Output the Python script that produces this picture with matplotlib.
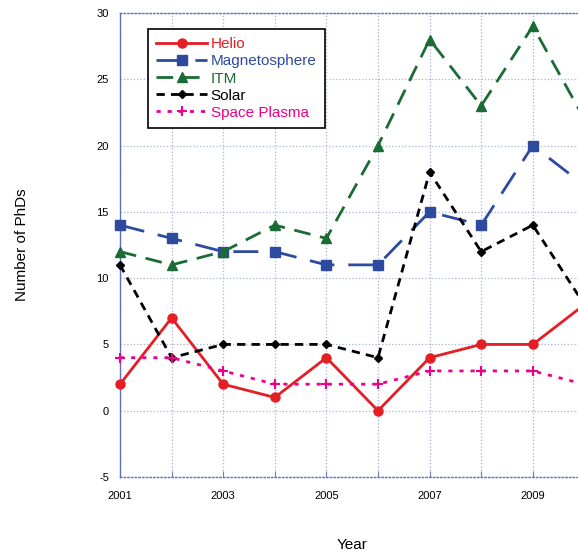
import matplotlib
matplotlib.use("Agg")
import matplotlib.pyplot as plt

years = [2001, 2002, 2003, 2004, 2005, 2006, 2007, 2008, 2009, 2010]
helio = [2, 7, 2, 1, 4, 0, 4, 5, 5, 8]
magneto = [14, 13, 12, 12, 11, 11, 15, 14, 20, 17]
itm = [12, 11, 12, 14, 13, 20, 28, 23, 29, 22]
solar = [11, 4, 5, 5, 5, 4, 18, 12, 14, 8]
plasma = [4, 4, 3, 2, 2, 2, 3, 3, 3, 2]
xtick_labels = ["2001", "2003", "2005", "2007", "2009"]
yticks = [-5, 0, 5, 10, 15, 20, 25, 30]

plt.rcParams['font.family'] = ['Liberation Sans', 'DejaVu Sans']

fig = plt.figure(figsize=(5.78, 5.56), dpi=100)
ax = fig.add_axes([120/578, 79/556, 1 - 120/578, (477-13)/556])

kw = dict(clip_on=False, zorder=3)
ax.plot(years, helio, color='#e31e24', lw=2, marker='o', ms=6.5, label='Helio', **kw)
ax.plot(years, magneto, color='#2e4a9e', lw=2, ls=(0, (9, 5)), marker='s', ms=6.5, label='Magnetosphere', **kw)
ax.plot(years, itm, color='#1a6b35', lw=2, ls=(0, (6, 3.5)), marker='^', ms=6.5, label='ITM', **kw)
ax.plot(years, solar, color='black', lw=2, ls=(0, (3, 2.2)), marker='D', ms=4.5, label='Solar', **kw)
ax.plot(years, plasma, color='#ec008c', lw=2, ls=(0, (1.5, 2.5)), marker='+', ms=7, mew=1.5, label='Space Plasma', **kw)

ax.set_xlim(2001, 2001 + 458/51.6)
ax.set_ylim(-5, 30)
ax.set_xticks(years[:9])
ax.set_xticklabels([xtick_labels[i // 2] if i % 2 == 0 else '' for i in range(9)], fontsize=8)
ax.set_yticks(yticks)
ax.set_yticklabels([str(v) for v in yticks], fontsize=8)
ax.tick_params(axis='y', length=0, pad=8)
ax.tick_params(axis='x', length=4, direction='in', color='#7080c0', pad=10)
ax.grid(True, color='#a8b2dc', ls=':', lw=0.9)

ax.spines['right'].set_visible(False)
for s in ['left', 'bottom', 'top']:
    ax.spines[s].set_color('#6070c0')
    ax.spines[s].set_linewidth(1.0)
ax.spines['top'].set_linestyle(':')
ax.spines['bottom'].set_linestyle(':')

fig.text(22/578, 1 - 245/556, 'Number of PhDs', rotation=90, ha='center', va='center', fontsize=11)
fig.text(352/578, 1 - 545/556, 'Year', ha='center', va='center', fontsize=11)

leg = ax.legend(loc='upper left', bbox_to_anchor=((148-120)/458, 1 - (29-13)/464),
                fontsize=11, frameon=True, fancybox=False, edgecolor='black',
                handlelength=3.3, borderpad=0.55, labelspacing=0.2, handletextpad=0.25,
                borderaxespad=0, numpoints=1, framealpha=1)
leg.get_frame().set_linewidth(1.2)
leg.set_zorder(5)
colors = ['#e31e24', '#2e4a9e', '#1a6b35', 'black', '#ec008c']
for t, c in zip(leg.get_texts(), colors):
    t.set_color(c)

fig.savefig('out.png', dpi=100)
